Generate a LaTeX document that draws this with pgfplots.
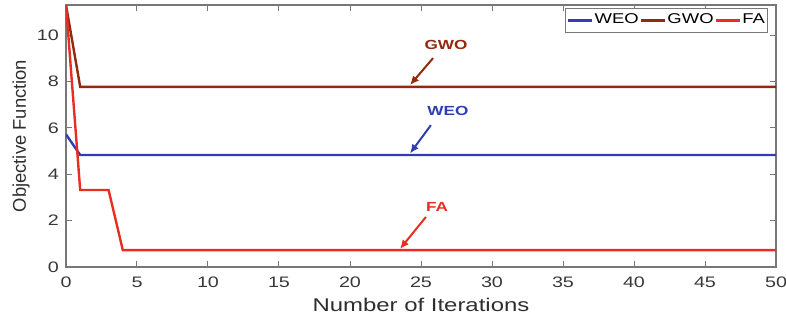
\documentclass[border=0pt]{standalone}
\usepackage{pgfplots}
\pgfplotsset{compat=1.18}
\usepackage{fontspec}
\setmainfont[FakeStretch=1.3]{Liberation Sans}
\newfontfamily\plainsans{Liberation Sans}
\usetikzlibrary{arrows.meta}
\definecolor{weo}{RGB}{48,62,178}
\definecolor{gwo}{RGB}{145,42,14}
\definecolor{fa}{RGB}{232,46,34}
\definecolor{axgray}{RGB}{120,120,120}
\tikzset{note arrow/.style={line width=1pt, -{Latex[length=4.5pt,width=4pt]}},
  note text/.style={font=\bfseries\fontsize{6.6}{7}\selectfont}}
\begin{document}
\begin{tikzpicture}
\begin{axis}[
  name=main,
  scale only axis,
  width=355pt, height=131pt,
  xmin=0, xmax=50, ymin=0, ymax=11.3,
  xtick={0,5,...,50}, ytick={0,2,...,10},
  tick align=inside,
  axis line style={axgray, line width=0.6pt},
  tick style={axgray, line width=0.5pt},
  major tick length=3pt,
  ticklabel style={font=\fontsize{7.6}{8}\selectfont, text=black!78},
  xticklabel style={yshift=-1.5pt},
  /pgf/number format/assume math mode=true,
  xlabel={Number of Iterations},
  ylabel={\plainsans Objective Function},
  label style={font=\fontsize{9.2}{10}\selectfont, text=black!82},
  xlabel style={at={(axis description cs:0.5,0)}, anchor=center, yshift=-19pt},
  ylabel style={at={(axis description cs:0,0.5)}, anchor=center, yshift=22.5pt},
  legend style={at={(rel axis cs:0.989,0.989)}, anchor=north east, legend columns=3,
    font=\fontsize{7.1}{8}\selectfont, draw=axgray, inner sep=0.8pt,
    /tikz/every even column/.append style={column sep=0pt},
    nodes={inner xsep=0.6pt}},
  legend image code/.code={\draw[#1] (0pt,0pt) -- (12pt,0pt);},
  clip=true,
]
\addplot[weo, line width=1.2pt] coordinates {(0,5.72) (1,4.83) (50,4.83)};
\addlegendentry{WEO}
\addplot[gwo, line width=1.2pt] coordinates {(0,11.3) (1,7.77) (50,7.77)};
\addlegendentry{GWO}
\addplot[fa, line width=1.2pt] coordinates {(0,11.3) (1,3.32) (3,3.32) (4,0.73) (50,0.73)};
\addlegendentry{FA}

% labels pointing at each curve
\draw[gwo, note arrow] (axis cs:25.85,9.01) -- (axis cs:24.23,7.85);
\node[gwo, note text] at (axis cs:26.76,9.57) {GWO};
\draw[weo, note arrow] (axis cs:25.7,6.12) -- (axis cs:24.23,4.9);
\node[weo, note text] at (axis cs:26.9,6.73) {WEO};
\draw[fa, note arrow] (axis cs:25.35,2.16) -- (axis cs:23.52,0.78);
\node[fa, note text] at (axis cs:26.13,2.59) {FA};

\coordinate (SW) at (rel axis cs:0,0);
\coordinate (NE) at (rel axis cs:1,1);
\end{axis}
\pgfresetboundingbox
\path ([shift={(-33pt,-27.5pt)}]SW) rectangle ([shift={(5pt,2.5pt)}]NE);
\end{tikzpicture}
\end{document}
